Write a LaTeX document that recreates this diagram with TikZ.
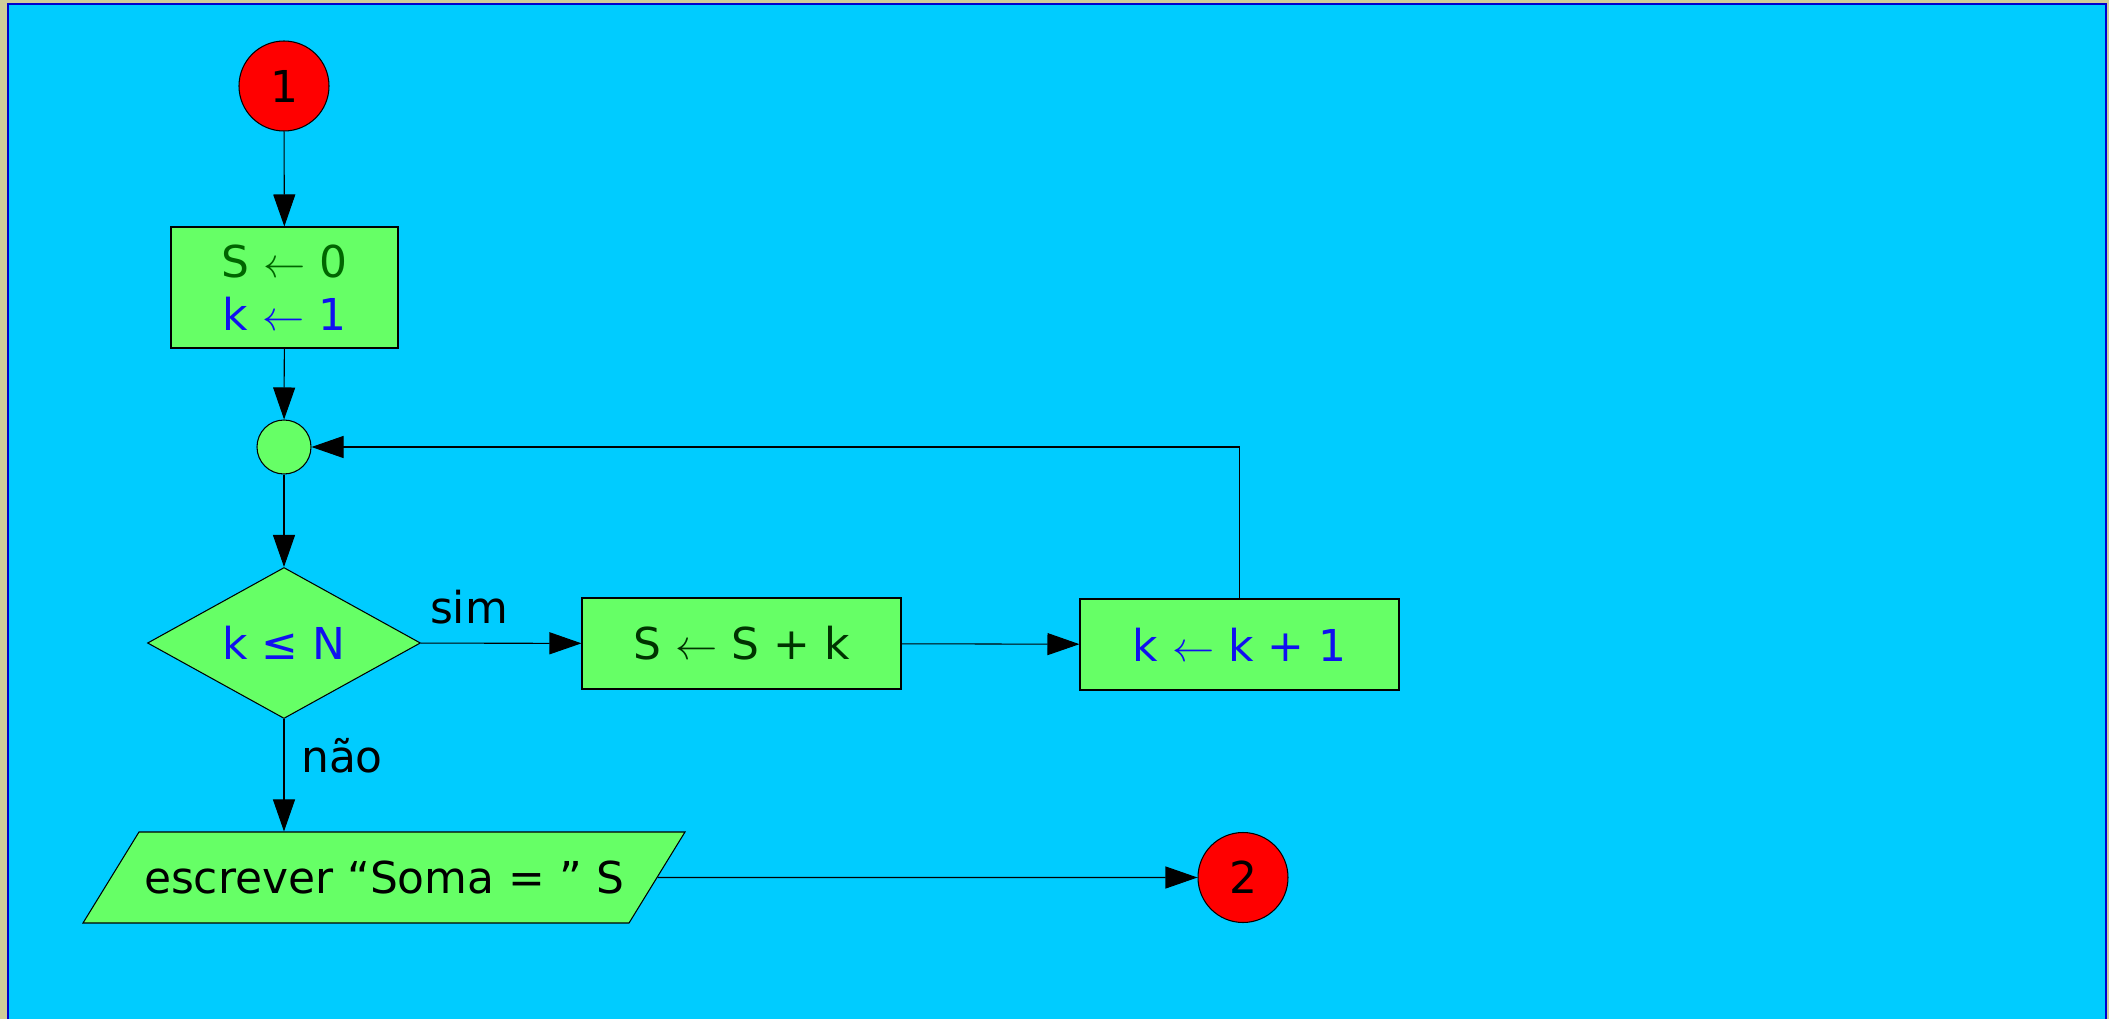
\documentclass[tikz,border=0pt]{standalone}
\usepackage{fontspec}
\setmainfont{DejaVu Sans}
\usetikzlibrary{shapes.geometric,arrows.meta}

\definecolor{fundo}{HTML}{00CCFF}
\definecolor{moldura}{HTML}{0000CC}
\definecolor{margem}{HTML}{CFCC99}
\definecolor{caixa}{HTML}{66FF66}
\definecolor{verdeesc}{HTML}{006600}
\definecolor{verdenoite}{HTML}{003300}
\definecolor{azul}{HTML}{1010F0}

\newcommand{\recebe}{\ $\leftarrow$\ }

\begin{document}
\begin{tikzpicture}[line width=0.3pt,
    font=\fontsize{12.5}{15}\selectfont,
    conector/.style ={circle, draw, fill=red, inner sep=0pt, minimum size=0.9cm},
    juncao/.style ={circle, draw, fill=caixa, inner sep=0pt, minimum size=0.54cm},
    processo/.style ={rectangle, draw, fill=caixa, inner sep=0pt, align=center},
    decisao/.style ={diamond, draw, fill=caixa, inner sep=0pt, aspect=1.8,
        minimum width=2.73cm, minimum height=1.51cm},
    saida/.style ={trapezium, draw, fill=caixa, inner xsep=0pt, inner ysep=0pt,
        text height=0.615cm, text depth=0.295cm,
        trapezium left angle=58.4, trapezium right angle=121.6,
        trapezium stretches body=true, minimum width=6.02cm},
    seta/.style ={-{Triangle[length=3.2mm,width=2.2mm]}},
    rotulo/.style ={inner sep=0pt}]
   % fundo e moldura
   \useasboundingbox (0,0) rectangle (21.09,-10.19);
   \fill[margem] (0,0) rectangle (21.09,-10.19);
   \clip (0,0) rectangle (21.09,-10.19);
   \draw[moldura, fill=fundo, line width=0.6pt] (0.077,-0.04) rectangle (21.06,-10.6);

   \node[conector] (inicio) at (2.84,-0.86) {1};
   \node[processo, minimum width=2.27cm, minimum height=1.21cm] (init) at (2.845,-2.875)
      {\textcolor{verdeesc}{S\recebe0}\\\textcolor{azul}{k\recebe1}};
   \node[juncao] (junta) at (2.84,-4.47) {};
   \node[decisao] (teste) at (2.84,-6.43) {\textcolor{azul}{k ≤ N}};
   \node[processo, minimum width=3.19cm, minimum height=0.91cm] (soma) at (7.415,-6.435)
      {\textcolor{verdenoite}{S\recebe S + k}};
   \node[processo, minimum width=3.19cm, minimum height=0.91cm] (incr) at (12.395,-6.445)
      {\textcolor{azul}{k\recebe k + 1}};
   \node[saida] (escreve) at (3.84,-8.775) {escrever “Soma = ” S};
   \node[conector] (fim) at (12.43,-8.775) {2};

   \node[rotulo] (sim) at (4.69,-6.07) {sim};
   \node[rotulo] (nao) at (3.42,-7.56) {não};

   \draw[seta] (inicio) to (init);
   \draw[seta] (init) to (junta);
   \draw[seta] (junta) to (teste);
   \draw[seta] (teste) to (soma);
   \draw[seta] (soma) to (incr);
   \draw[seta] (incr.north) |- (junta);
   \draw[seta] (teste.south) to (teste.south |- escreve.north);
   \draw[seta] (escreve) to (fim);
 \end{tikzpicture}
\end{document}
